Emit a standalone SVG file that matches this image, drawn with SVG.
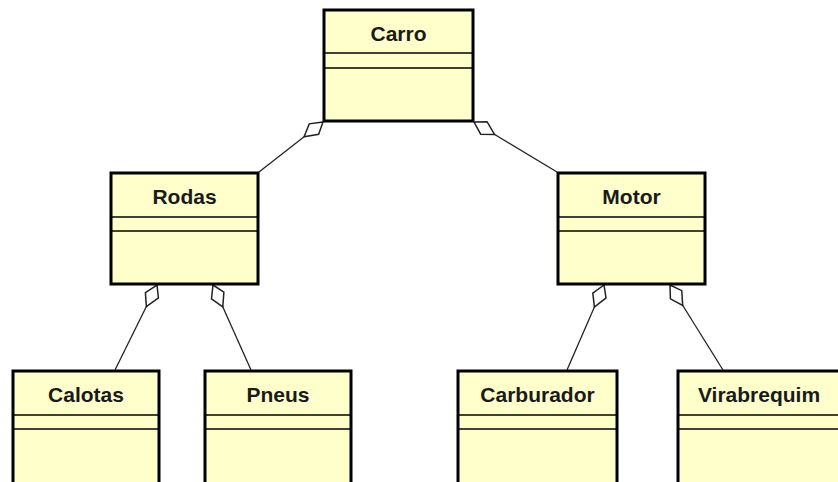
<svg xmlns="http://www.w3.org/2000/svg" width="838" height="482" viewBox="0 0 838 482">
<defs>
<marker id="agg" refX="0" refY="0" markerWidth="30" markerHeight="20" markerUnits="userSpaceOnUse" orient="auto" overflow="visible">
<path d="M0,0 L11,-7 L24,0 L12,7 Z" fill="#ffffff" stroke="#222" stroke-width="1.5" stroke-linejoin="miter"/>
</marker>
</defs>
<style>
.box{fill:#ffffcc;stroke:#000;stroke-width:3}
.div{stroke:#000;stroke-width:1.5}
.lbl{font-family:"Liberation Sans",Arial,sans-serif;font-weight:bold;font-size:21px;fill:#1a1a1a;text-anchor:middle}
.con{fill:none;stroke:#222;stroke-width:1.3;marker-start:url(#agg)}
</style>
<rect width="838" height="482" fill="#fff"/>
<g id="connectors">
<path class="con" d="M323,122 L259,172"/>
<path class="con" d="M474,122 L557,172"/>
<path class="con" d="M157,285 L115,370"/>
<path class="con" d="M213,285 L251,370"/>
<path class="con" d="M604,285 L567,370"/>
<path class="con" d="M670,285 L723,370"/>
</g>
<g id="carro">
<rect class="box" x="324" y="10" width="149" height="111"/>
<line class="div" x1="324" y1="53" x2="473" y2="53"/>
<line class="div" x1="324" y1="68" x2="473" y2="68"/>
<text class="lbl" x="398.5" y="40.5">Carro</text>
</g>
<g id="rodas">
<rect class="box" x="111" y="173" width="147" height="111"/>
<line class="div" x1="111" y1="217" x2="258" y2="217"/>
<line class="div" x1="111" y1="231" x2="258" y2="231"/>
<text class="lbl" x="184.5" y="204">Rodas</text>
</g>
<g id="motor">
<rect class="box" x="558" y="173" width="147" height="111"/>
<line class="div" x1="558" y1="217" x2="705" y2="217"/>
<line class="div" x1="558" y1="231" x2="705" y2="231"/>
<text class="lbl" x="631.5" y="204">Motor</text>
</g>
<g id="calotas">
<rect class="box" x="13" y="371" width="146" height="130"/>
<line class="div" x1="13" y1="415" x2="159" y2="415"/>
<line class="div" x1="13" y1="429" x2="159" y2="429"/>
<text class="lbl" x="86" y="402">Calotas</text>
</g>
<g id="pneus">
<rect class="box" x="205" y="371" width="146" height="130"/>
<line class="div" x1="205" y1="415" x2="351" y2="415"/>
<line class="div" x1="205" y1="429" x2="351" y2="429"/>
<text class="lbl" x="278" y="402">Pneus</text>
</g>
<g id="carburador">
<rect class="box" x="458" y="371" width="159" height="130"/>
<line class="div" x1="458" y1="415" x2="617" y2="415"/>
<line class="div" x1="458" y1="429" x2="617" y2="429"/>
<text class="lbl" x="537.5" y="402">Carburador</text>
</g>
<g id="virabrequim">
<rect class="box" x="678" y="371" width="170" height="130"/>
<line class="div" x1="678" y1="415" x2="848" y2="415"/>
<line class="div" x1="678" y1="429" x2="848" y2="429"/>
<text class="lbl" x="759" y="402">Virabrequim</text>
</g>
</svg>
